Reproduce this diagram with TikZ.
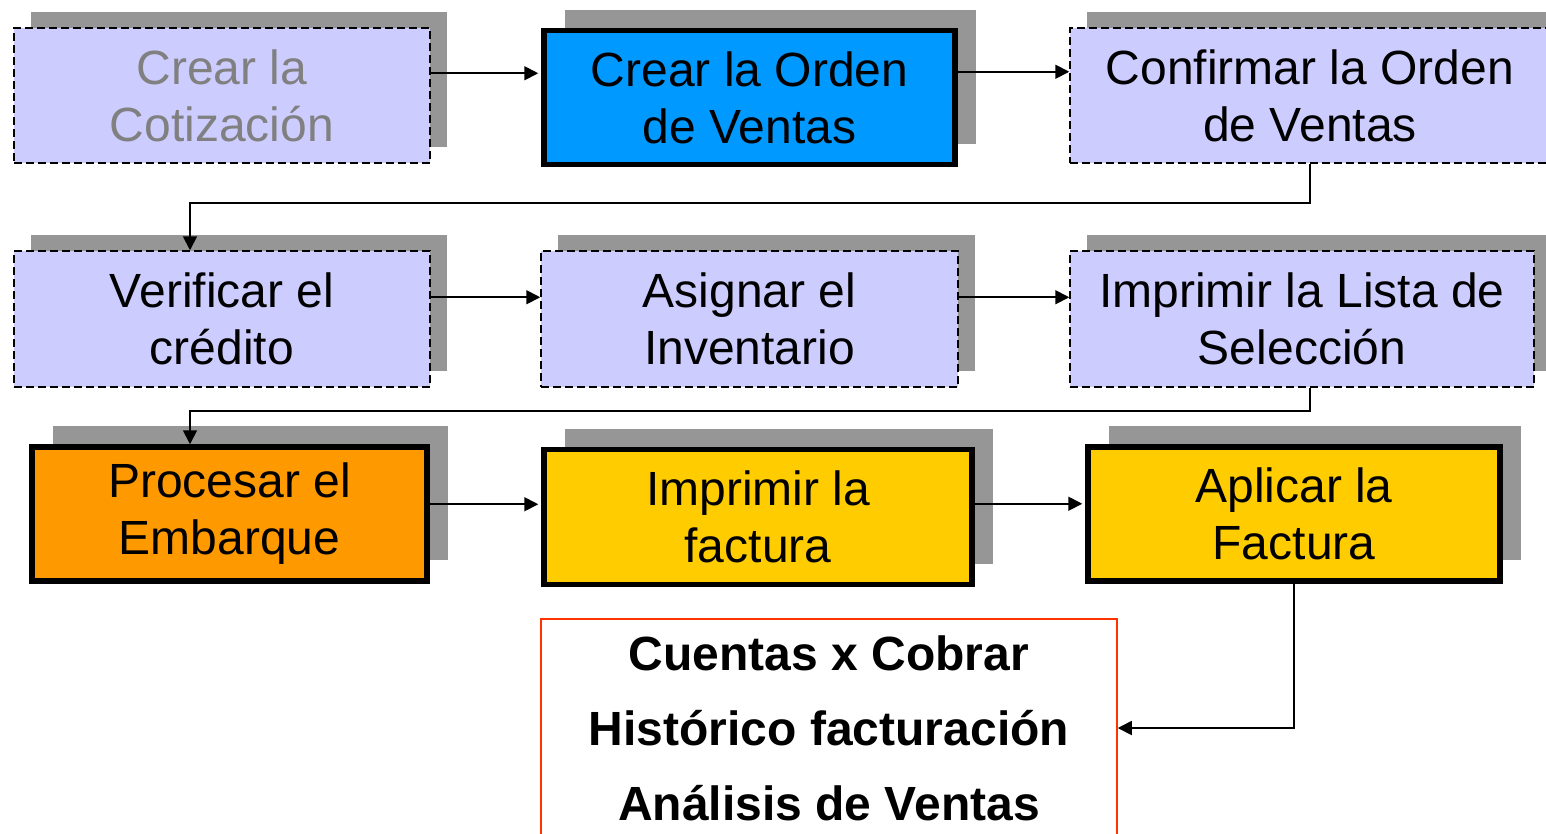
\documentclass[tikz,border=0pt]{standalone}
\usepackage{fontspec}
\setmainfont{Liberation Sans}
\usetikzlibrary{arrows.meta,shadows}
\definecolor{lav}{HTML}{CCCCFF}
\definecolor{bluebox}{HTML}{0099FF}
\definecolor{orangebox}{HTML}{FF9900}
\definecolor{yellowbox}{HTML}{FFCC00}
\definecolor{shgray}{HTML}{969696}
\definecolor{redline}{HTML}{FF3300}
\definecolor{greytext}{HTML}{808080}
\tikzset{
  base/.style={rectangle, inner sep=0pt, align=center,
    font=\fontsize{48}{57}\selectfont},
  dbox/.style={base, draw=black, line width=1.5pt, dash pattern=on 8pt off 4pt,
    fill=lav,
    drop shadow={shadow xshift=16.5pt, shadow yshift=16.5pt, fill=shgray, opacity=1}},
  tbox/.style={base, draw=black, line width=5.5pt,
    drop shadow={shadow xshift=21pt, shadow yshift=21pt, fill=shgray, opacity=1}},
  rbox/.style={rectangle, inner sep=0pt, align=center, draw=redline, line width=1.5pt,
    fill=white, font=\fontsize{48}{75}\selectfont\bfseries},
  arr/.style={draw=black, line width=1.8pt, -{Triangle[length=14pt,width=14pt]}}
}
\begin{document}
\begin{tikzpicture}[x=1pt,y=-1pt]
\useasboundingbox (0,0) rectangle (1546,833);
\clip (0,0) rectangle (1546,833);
\fill[white] (0,0) rectangle (1546,833);
% row 1
\node[dbox, minimum width=416pt, minimum height=135pt, text=greytext] (b1) at (222,95.5) {Crear la\\Cotizaci\'on};
\node[tbox, fill=bluebox, minimum width=411pt, minimum height=134pt] (b2) at (749.5,97.5) {Crear la Orden\\de Ventas};
\node[dbox, minimum width=480pt, minimum height=135pt] (b3) at (1310,95.5) {Confirmar la Orden\\de Ventas};
% row 2
\node[dbox, minimum width=416pt, minimum height=136pt] (b4) at (222,319) {Verificar el\\cr\'edito};
\node[dbox, minimum width=417pt, minimum height=136pt] (b5) at (749.5,319) {Asignar el\\Inventario};
\node[dbox, minimum width=464pt, minimum height=136pt] (b6) at (1302,319) {Imprimir la Lista de\\Selecci\'on};
% row 3
\node[tbox, fill=orangebox, minimum width=395pt, minimum height=134pt] (b7) at (229.5,514) {Procesar el\\Embarque};
\node[tbox, fill=yellowbox, minimum width=428pt, minimum height=135pt] (b8) at (758,517) {Imprimir la\\factura};
\node[tbox, fill=yellowbox, minimum width=412pt, minimum height=134pt] (b9) at (1294,514) {Aplicar la\\Factura};
% result box
\node[rbox, minimum width=576pt, minimum height=218pt] (b10) at (829,728) {Cuentas x Cobrar\\Hist\'orico facturaci\'on\\An\'alisis de Ventas};
% connectors
\draw[arr, shorten >=3pt] ([yshift=-46pt]b1.north east) -- ([yshift=-46pt]b1.north east -| b2.west);
\draw[arr] ([yshift=-44pt]b2.north east) -- ([yshift=-44pt]b2.north east -| b3.west);
\draw[arr] (b3.south) -- ++(0,39) -| ([xshift=-32pt]b4.north);
\draw[arr] ([yshift=-47pt]b4.north east) -- ([yshift=-47pt]b4.north east -| b5.west);
\draw[arr] ([yshift=-47pt]b5.north east) -- ([yshift=-47pt]b5.north east -| b6.west);
\draw[arr] ([xshift=8pt]b6.south) -- ++(0,23) -| ([xshift=-39.5pt]b7.north);
\draw[arr, shorten >=3pt] ([yshift=-60pt]b7.north east) -- ([yshift=-60pt]b7.north east -| b8.west);
\draw[arr, shorten >=3pt] ([yshift=-57pt]b8.north east) -- ([yshift=-57pt]b8.north east -| b9.west);
\draw[arr] (b9.south) |- (b10.east);
\end{tikzpicture}
\end{document}
